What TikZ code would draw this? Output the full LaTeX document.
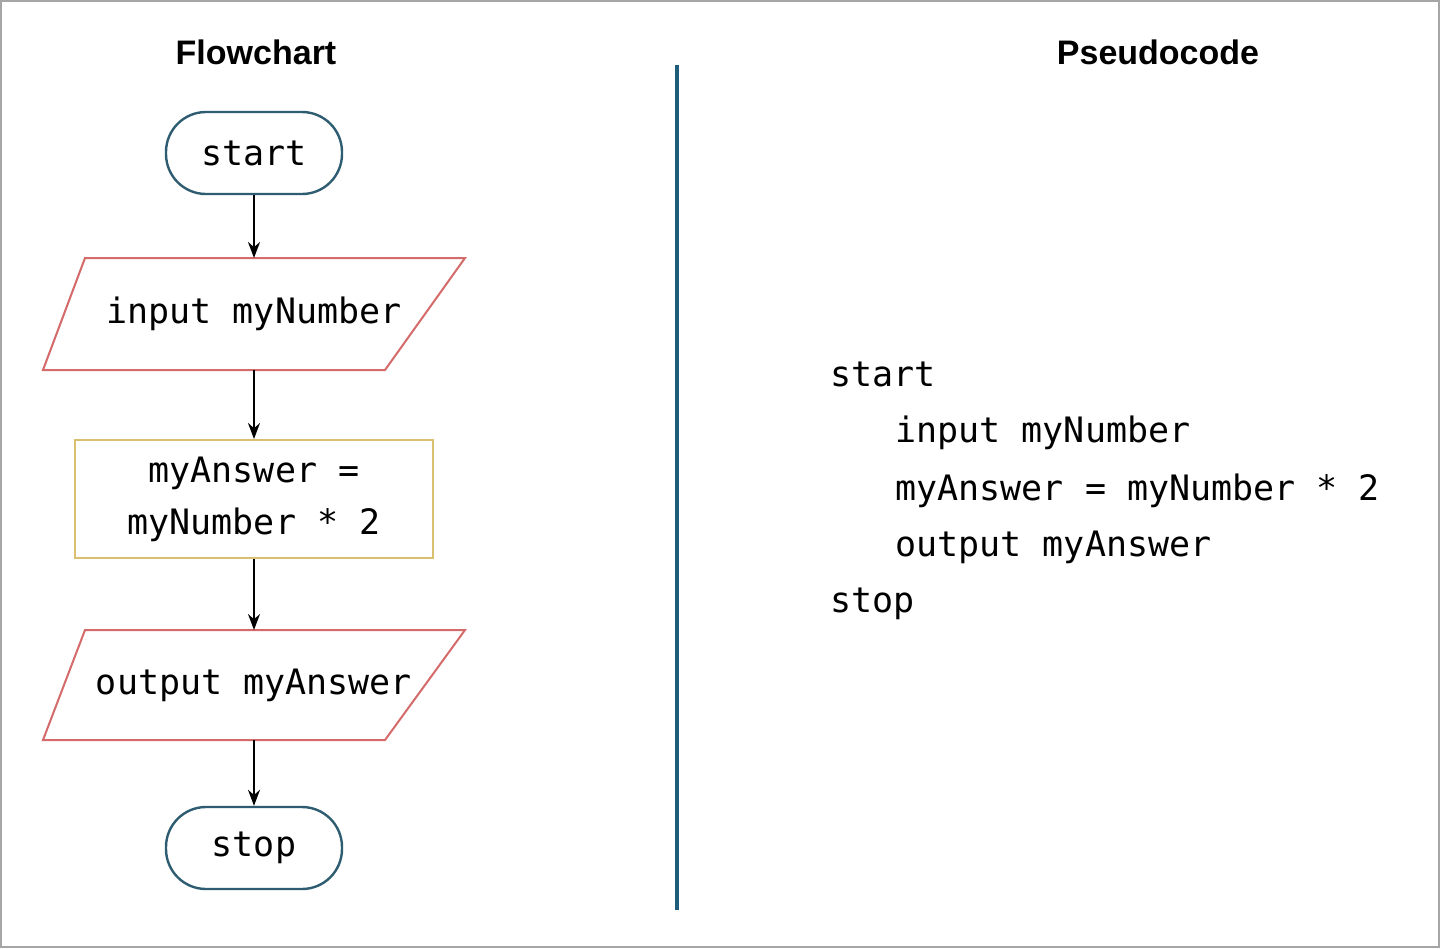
\documentclass[tikz,border=0pt]{standalone}
\usepackage{fontspec}
\setmainfont{Liberation Sans}
\newfontfamily\monof{DejaVu Sans Mono}
\usetikzlibrary{arrows.meta}
\definecolor{term}{HTML}{2E5C70}
\definecolor{io}{HTML}{D46A6A}
\definecolor{proc}{HTML}{D8C070}
\definecolor{divc}{HTML}{1F5E7A}
\begin{document}
\begin{tikzpicture}[x=0.5pt,y=-0.5pt,
  code/.style={font=\monof\fontsize{17.5}{20}\selectfont, inner sep=0pt},
  title/.style={font=\bfseries\fontsize{17}{20}\selectfont},
  termbox/.style={draw=term, line width=1.2pt, rounded corners=20pt, minimum width=88pt, minimum height=41pt, code},
  procbox/.style={draw=proc, line width=1pt, minimum width=179pt, minimum height=59pt, code, align=center},
  iobox/.style={minimum width=170pt, minimum height=56pt, code},
  iofr/.style={draw=io, line width=1pt},
  arr/.style={-{Stealth[length=8pt,width=6pt]}, line width=1pt}]
\useasboundingbox (0,0) rectangle (1440,948);
\draw[gray!70, line width=1.2pt] (1,1) rectangle (1439,947);
\node[title] (t1) at (256,52) {Flowchart};
\node[title] (t2) at (1158,52) {Pseudocode};
\draw[divc, line width=2.2pt] (677,65) -- (677,910);
\node[termbox] (s) at (254,153) {start};
\node[iobox] (in) at (254,314) {input myNumber};
\draw[iofr] (85,258) -- (465,258) -- (385,370) -- (43,370) -- cycle;
\node[procbox] (p) at (254,499) {myAnswer =\\[6pt]myNumber * 2};
\node[iobox] (out) at (254,685) {output myAnswer};
\draw[iofr] (85,630) -- (465,630) -- (385,740) -- (43,740) -- cycle;
\node[termbox] (e) at (254,848) {stop};
\draw[arr] (s.south) -- (254,258);
\draw[arr] (254,370) -- (p.north);
\draw[arr] (p.south) -- (254,630);
\draw[arr] (254,740) -- (e.north);
\node[code, anchor=base west] (c1) at (830,386) {start};
\node[code, anchor=base west] (c2) at (895,442) {input myNumber};
\node[code, anchor=base west] (c3) at (895,500) {myAnswer = myNumber * 2};
\node[code, anchor=base west] (c4) at (895,556) {output myAnswer};
\node[code, anchor=base west] (c5) at (830,612) {stop};
\end{tikzpicture}
\end{document}
